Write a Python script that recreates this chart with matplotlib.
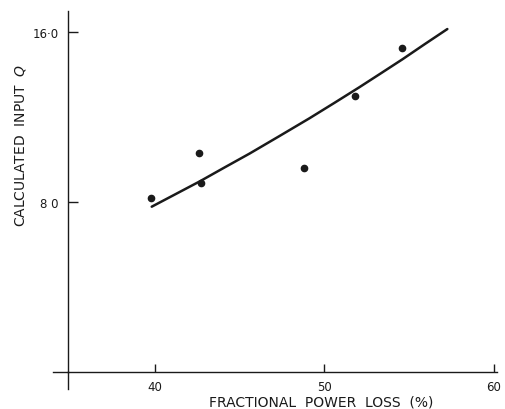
import numpy as np
import matplotlib.pyplot as plt

#TODO: data
loss_pct = [39.8, 42.6, 42.75, 48.8, 51.8, 54.6]
input_q = [8.17, 10.29, 8.89, 9.59, 13.0, 15.23]

# fitted curve (hand drawn in the original), points read along it
fit_x = [39.82, 41.2, 42.65, 44.1, 45.59, 47.3, 49.12, 50.6, 52.06, 53.3, 54.61, 55.9, 57.25]
fit_y = [7.78, 8.36, 8.97, 9.62, 10.28, 11.08, 11.94, 12.67, 13.40, 14.04, 14.72, 15.42, 16.14]

x_ticks = [40, 50, 60]
x_tick_labels = ['40', '50', '60']
y_ticks = [8, 16]
y_tick_labels = ['8 0', '16·0']

ink = '#1a1a1a'

fig = plt.figure(figsize=(5.05, 4.10), dpi=100)
ax = fig.add_axes([0.1352, 0.0902, 0.8497, 0.8811])

ax.plot(fit_x, fit_y, color=ink, linewidth=1.8, solid_capstyle='round',
        solid_joinstyle='round')
ax.plot(loss_pct, input_q, 'o', color=ink, markersize=4.5)

ax.set_xlim(34.9, 60.2)
ax.set_ylim(0, 17)

for side in ['top', 'right']:
    ax.spines[side].set_visible(False)
for side in ['left', 'bottom']:
    ax.spines[side].set_color(ink)
    ax.spines[side].set_linewidth(1.0)

# little overhang of the axes past the origin
ax.plot([34.9, 34.9], [0, -0.8], color=ink, linewidth=1.0, clip_on=False)
ax.plot([34.0, 34.9], [0, 0], color=ink, linewidth=1.0, clip_on=False)

ax.set_xticks(x_ticks)
ax.set_xticklabels(x_tick_labels)
ax.set_yticks(y_ticks)
ax.set_yticklabels(y_tick_labels)
ax.tick_params(axis='x', direction='in', length=6, width=1.0, color=ink,
               pad=6, labelsize=8.5, labelcolor=ink)
ax.tick_params(axis='y', direction='in', length=7, width=1.0, color=ink,
               pad=7, labelsize=8.5, labelcolor=ink)

ax.set_xlabel('FRACTIONAL  POWER  LOSS  (%)', fontsize=10, color=ink)
ax.xaxis.set_label_coords(0.59, -0.062)
ax.set_ylabel('CALCULATED  INPUT  $Q$', fontsize=10, color=ink)
ax.yaxis.set_label_coords(-0.095, 0.63)

plt.savefig('out.png', dpi=100)
